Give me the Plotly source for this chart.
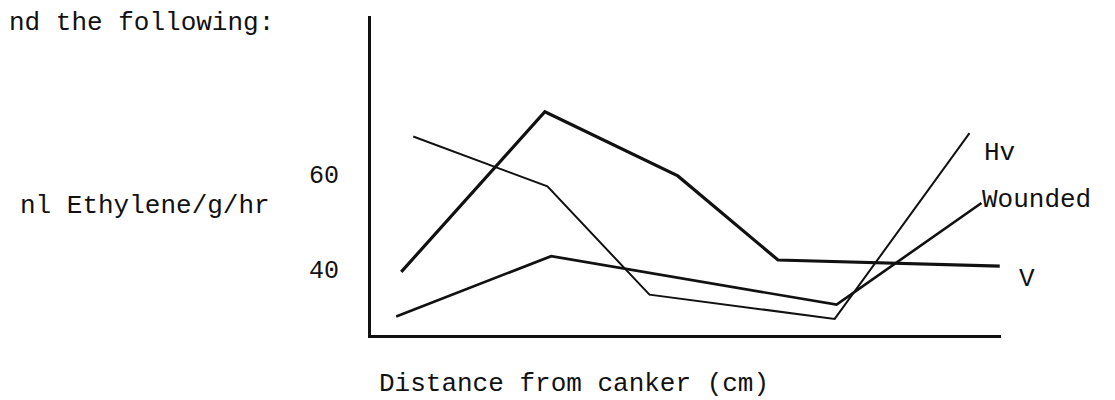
import plotly.graph_objects as go

# Data (x in arbitrary distance units, 0-10 across the axis)
v_x = [0.48, 2.76, 4.87, 6.46, 9.98]
v_y = [39.4, 73.1, 59.6, 41.9, 40.6]

hv_x = [0.67, 2.80, 4.42, 7.36, 9.50]
hv_y = [67.9, 57.4, 34.6, 29.5, 68.6]

wounded_x = [0.40, 2.86, 7.39, 9.69]
wounded_y = [30.0, 42.7, 32.5, 53.9]

y_tickvals = [40, 60]
y_ticktext = ["40", "60"]

FONT = "Liberation Mono, Courier New, monospace"
INK = "#111111"

W, H = 1115, 400
L, R, T, B = 363, 993, 8, 327  # plot area in pixels


def px(xp):
    return (xp - L) / (R - L)


def py(yp):
    return (B - yp) / (B - T)


fig = go.Figure()
fig.add_trace(go.Scatter(x=v_x, y=v_y, mode="lines", name="V",
                         line=dict(color=INK, width=3.2)))
fig.add_trace(go.Scatter(x=hv_x, y=hv_y, mode="lines", name="Hv",
                         line=dict(color=INK, width=2.0)))
fig.add_trace(go.Scatter(x=wounded_x, y=wounded_y, mode="lines", name="Wounded",
                         line=dict(color=INK, width=2.6)))

annotations = [
    dict(text="nd the following:", x=px(0), y=py(15)),
    dict(text="nl Ethylene/g/hr", x=px(11), y=py(198)),
    dict(text="Distance from canker (cm)", x=px(370), y=py(376)),
    dict(text="Hv", x=px(975), y=py(145)),
    dict(text="Wounded", x=px(973), y=py(192)),
    dict(text="V", x=px(1010), y=py(271)),
]
for a in annotations:
    a.update(xref="paper", yref="paper", xanchor="left", yanchor="middle",
             showarrow=False, borderpad=0,
             font=dict(family=FONT, size=26, color=INK))

fig.update_layout(
    width=W, height=H,
    margin=dict(l=L, r=W - R, t=T, b=H - B, pad=0),
    paper_bgcolor="white", plot_bgcolor="white",
    showlegend=False,
    annotations=annotations,
    xaxis=dict(range=[0, 10], showgrid=False, zeroline=False,
               showticklabels=False, ticks="", showline=True,
               linecolor=INK, linewidth=3),
    yaxis=dict(range=[40 - (B - 261) / 4.75, 40 + (261 - T) / 4.75],
               showgrid=False, zeroline=False,
               tickvals=y_tickvals, ticktext=y_ticktext, ticks="",
               ticklabelstandoff=24,
               tickfont=dict(family=FONT, size=25, color=INK),
               showline=True, linecolor=INK, linewidth=3),
)

fig.write_html("out.html")
